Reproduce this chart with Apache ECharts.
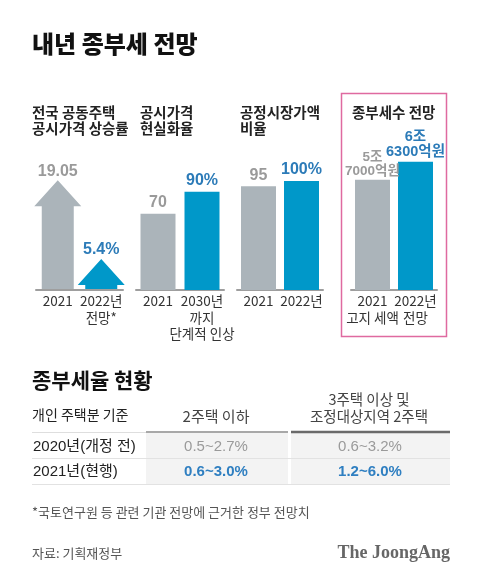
<!DOCTYPE html>
<html><head><meta charset="utf-8">
<script src="https://cdn.jsdelivr.net/npm/echarts@6/dist/echarts.min.js"></script>
<style>html,body{margin:0;padding:0;background:#fff}#c{width:480px;height:584px}</style>
</head><body><div id="c"></div>
<script>
// ---- data ----
var mainTitle = '내년 종부세 전망';
var p1Title = '전국 공동주택\n공시가격 상승률';
var p1Cats = ['2021', '2022년\n전망*'];
var p1Values = [19.05, 5.4];
var p1Labels = ['19.05', '5.4%'];

var p2Title = '공시가격\n현실화율';
var p2Cats = ['2021', '2030년\n까지\n단계적 인상'];
var p2Values = [70, 90];
var p2Labels = ['70', '90%'];

var p3Title = '공정시장가액\n비율';
var p3Cats = ['2021', '2022년'];
var p3Values = [95, 100];
var p3Labels = ['95', '100%'];

var p4Title = '종부세수 전망';
var p4Cats = ['2021\n고지 세액', '2022년\n전망'];
var p4Values = [5.7, 6.63];   // 조원
var p4Labels = ['5조\n7000억원', '6조\n6300억원'];

var tableTitle = '종부세율 현황';
var tableHeader = ['개인 주택분 기준', '2주택 이하', '3주택 이상 및\n조정대상지역 2주택'];
var tableRows = ['2020년(개정 전)', '2021년(현행)'];
var tableCol1 = ['0.5~2.7%', '0.6~3.0%'];
var tableCol2 = ['0.6~3.2%', '1.2~6.0%'];

var footnote = '*국토연구원 등 관련 기관 전망에 근거한 정부 전망치';
var source = '자료: 기획재정부';
var brand = 'The JoongAng';

// ---- style ----
var GRAY = '#abb4ba', BLUE = '#0098c9';
var GRAY_T = '#9a9a9a', BLUE_T = '#2c7bb8';
var NUMF = '"Liberation Sans", "Noto Sans CJK KR", sans-serif';
var KRF = '"Noto Sans CJK KR", sans-serif';
var colorsIdx = [GRAY, BLUE], textIdx = [GRAY_T, BLUE_T];

var chart = echarts.init(document.getElementById('c'), null, {renderer: 'canvas'});

var grids = [
  {left: 36, width: 87, top: 169, bottom: 294},
  {left: 136, width: 88, top: 170, bottom: 294},
  {left: 237, width: 86, top: 170, bottom: 294},
  {left: 351, width: 86, top: 145, bottom: 294}
];
var cats = [p1Cats, p2Cats, p3Cats, p4Cats];
var maxes = [21, 110, 110, 7.5];

var xAxes = cats.map(function (c, i) {
  return {
    type: 'category', gridIndex: i, data: c,
    axisLine: {lineStyle: {color: '#9e9e9e', width: 2}},
    axisTick: {show: false},
    axisLabel: {interval: 0, margin: 3, color: '#333', fontFamily: KRF, fontSize: 13.5, lineHeight: 16.5}
  };
});
var yAxes = maxes.map(function (m, i) {
  return {type: 'value', gridIndex: i, min: 0, max: m, show: false, splitLine: {show: false}};
});

function barSeries(i, vals, labels, fs, lh) {
  return {
    type: 'bar', xAxisIndex: i, yAxisIndex: i, barWidth: 35,
    data: vals.map(function (v, k) {
      return {value: v, itemStyle: {color: colorsIdx[k]},
        label: {color: textIdx[k]}};
    }),
    label: {
      show: true, position: 'top', distance: 2,
      fontFamily: NUMF, fontWeight: 'bold', fontSize: fs, lineHeight: lh,
      formatter: function (p) { return labels[p.dataIndex]; }
    }
  };
}

var arrowSeries = {
  type: 'custom', xAxisIndex: 0, yAxisIndex: 0,
  data: p1Values.map(function (v, k) { return [k, v]; }),
  renderItem: function (params, api) {
    var idx = api.value(0), v = api.value(1);
    var tip = api.coord([idx, v]), base = api.coord([idx, 0]);
    var hw = 23.5, sw = 16, hh = 26;
    var cx = tip[0];
    var hb = Math.min(tip[1] + hh, base[1] - 4);
    return {
      type: 'group', children: [
        {type: 'polygon', shape: {points: [[cx, tip[1]], [cx + hw, hb], [cx + sw, hb], [cx + sw, base[1] - 1],
          [cx - sw, base[1] - 1], [cx - sw, hb], [cx - hw, hb]]},
          style: {fill: colorsIdx[params.dataIndex]}},
        {type: 'text', x: cx, y: tip[1] - 1,
          style: {text: p1Labels[params.dataIndex], fill: textIdx[params.dataIndex], align: 'center',
            verticalAlign: 'bottom', font: 'bold 16px ' + NUMF}}
      ]
    };
  }
};

// graphics: titles, table, notes
var g = [];
function txt(x, y, text, font, fill, align, lh) {
  g.push({type: 'text', x: x, y: y, silent: true,
    style: {text: text, font: font, fill: fill, align: align || 'left', verticalAlign: 'middle', lineHeight: lh}});
}
txt(32, 44, mainTitle, '900 24px ' + KRF, '#111');
var ptFont = 'bold 14.5px ' + KRF;
txt(32, 120, p1Title, ptFont, '#222', 'left', 16);
txt(140, 120, p2Title, ptFont, '#222', 'left', 16);
txt(240, 120, p3Title, ptFont, '#222', 'left', 16);
txt(352, 112, p4Title, ptFont, '#222', 'left', 16);
g.push({type: 'rect', shape: {x: 341.5, y: 93.5, width: 105, height: 243},
  style: {fill: 'none', stroke: '#df6aa0', lineWidth: 1.5}, silent: true});

// table
txt(32, 380, tableTitle, 'bold 21px ' + KRF, '#111');
txt(32, 415, tableHeader[0], '14px ' + KRF, '#222');
txt(216, 416, tableHeader[1], '15px ' + KRF, '#444', 'center');
txt(369, 408, tableHeader[2], '14.5px ' + KRF, '#444', 'center', 17);
var rowsY = [[433, 458], [459, 484]];
rowsY.forEach(function (r) {
  g.push({type: 'rect', shape: {x: 146, y: r[0], width: 142, height: r[1] - r[0]}, style: {fill: '#f3f3f3'}, silent: true});
  g.push({type: 'rect', shape: {x: 291, y: r[0], width: 159, height: r[1] - r[0]}, style: {fill: '#f3f3f3'}, silent: true});
});
g.push({type: 'line', shape: {x1: 32, y1: 432.5, x2: 146, y2: 432.5}, style: {stroke: '#dedede', lineWidth: 1}, silent: true});
g.push({type: 'line', shape: {x1: 146, y1: 432, x2: 288, y2: 432}, style: {stroke: '#a8a8a8', lineWidth: 2}, silent: true});
g.push({type: 'line', shape: {x1: 291, y1: 432, x2: 450, y2: 432}, style: {stroke: '#6a6a6a', lineWidth: 2.5}, silent: true});
g.push({type: 'line', shape: {x1: 32, y1: 458.5, x2: 450, y2: 458.5}, style: {stroke: '#e2e2e2', lineWidth: 1}, silent: true});
g.push({type: 'line', shape: {x1: 32, y1: 484.5, x2: 450, y2: 484.5}, style: {stroke: '#e2e2e2', lineWidth: 1}, silent: true});
var rowC = [447, 472];
tableRows.forEach(function (r, k) {
  txt(33, rowC[k], r, '15px ' + NUMF, '#222');
  var f = k === 0 ? '15px ' + NUMF : 'bold 15px ' + NUMF;
  var c = k === 0 ? '#9a9a9a' : '#2f7fc1';
  txt(216, rowC[k], tableCol1[k], f, c, 'center');
  txt(370, rowC[k], tableCol2[k], f, c, 'center');
});

txt(32, 512, footnote, '13px ' + KRF, '#555');
txt(32, 553, source, '13px ' + KRF, '#555');
txt(450, 553, brand, 'bold 18px "Liberation Serif", serif', '#666', 'right');

chart.setOption({
  animation: false,
  grid: grids,
  xAxis: xAxes,
  yAxis: yAxes,
  series: [
    arrowSeries,
    barSeries(1, p2Values, p2Labels, 16, 18),
    barSeries(2, p3Values, p3Labels, 16, 18),
    (function () {
      var s = barSeries(3, p4Values, p4Labels, 14.5, 15);
      s.data[0].label.fontSize = 13.5; s.data[0].label.lineHeight = 14;
      return s;
    })()
  ],
  graphic: g
});
</script></body></html>
